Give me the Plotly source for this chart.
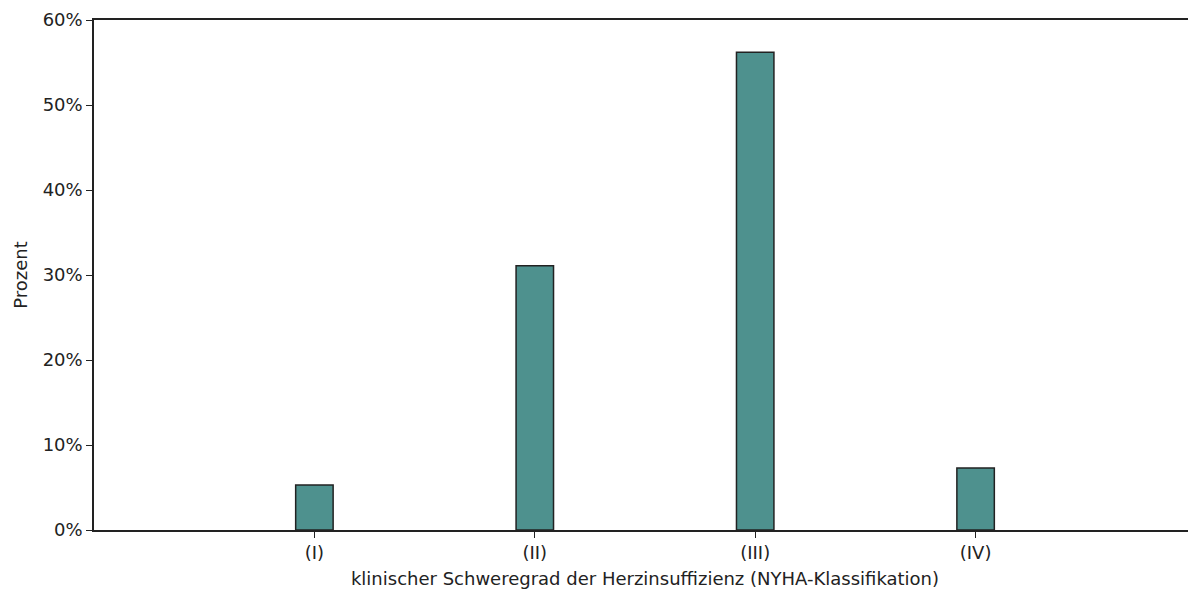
import plotly.graph_objects as go

categories = ["(I)", "(II)", "(III)", "(IV)"]
values = [5.3, 31.1, 56.2, 7.3]
y_ticks = [0, 10, 20, 30, 40, 50, 60]
y_tick_labels = ["0%", "10%", "20%", "30%", "40%", "50%", "60%"]

font_family = "Verdana, DejaVu Sans, sans-serif"
fs = 18

fig = go.Figure()
fig.add_trace(go.Bar(
    x=categories,
    y=values,
    width=0.17,
    marker=dict(color="#4e918e", line=dict(color="#222222", width=1.5)),
    hoverinfo="skip",
))

# page body has an 8px margin; compensate so the plot area lands at x 94..1196, y 20..530
fig.update_layout(
    width=1188,
    height=583,
    margin=dict(l=86, r=0, t=12, b=61),
    paper_bgcolor="white",
    plot_bgcolor="white",
    showlegend=False,
    font=dict(family=font_family, size=fs, color="#222222"),
    xaxis=dict(
        type="category",
        range=[-1, 4],
        showline=True,
        linecolor="#222222",
        linewidth=1.5,
        mirror=True,
        ticks="outside",
        ticklen=6,
        tickcolor="#222222",
        showgrid=False,
        zeroline=False,
        tickfont=dict(family=font_family, size=fs),
        title=dict(text="klinischer Schweregrad der Herzinsuffizienz (NYHA-Klassifikation)",
                   font=dict(family=font_family, size=fs), standoff=10),
    ),
    yaxis=dict(
        range=[0, 60],
        tickvals=y_ticks,
        ticktext=y_tick_labels,
        showline=True,
        linecolor="#222222",
        linewidth=1.5,
        ticks="outside",
        ticklen=6,
        tickcolor="#222222",
        showgrid=False,
        zeroline=False,
        tickfont=dict(family=font_family, size=fs),
        title=dict(text="Prozent", font=dict(family=font_family, size=fs), standoff=10),
    ),
)

fig.write_html("out.html")
